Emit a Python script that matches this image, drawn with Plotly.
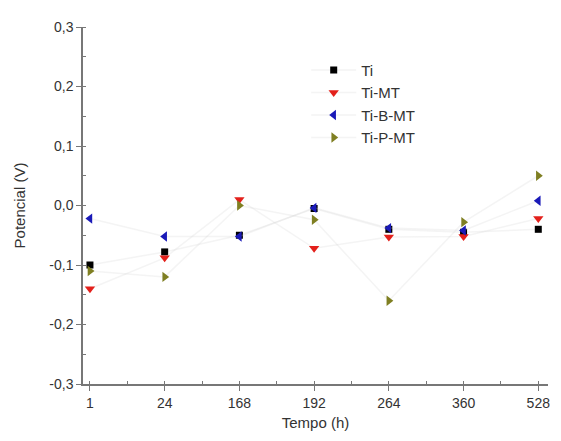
import plotly.graph_objects as go

categories = ["1", "24", "168", "192", "264", "360", "528"]
ti = [-0.10, -0.078, -0.05, -0.005, -0.04, -0.045, -0.04]
ti_mt = [-0.14, -0.088, 0.01, -0.072, -0.053, -0.052, -0.022]
ti_b_mt = [-0.022, -0.052, -0.052, -0.004, -0.038, -0.042, 0.008]
ti_p_mt = [-0.11, -0.12, 0.0, -0.024, -0.16, -0.028, 0.05]
y_ticks = [-0.3, -0.2, -0.1, 0.0, 0.1, 0.2, 0.3]
y_labels = ["-0,3", "-0,2", "-0,1", "0,0", "0,1", "0,2", "0,3"]

xs = list(range(len(categories)))

series = [
    ("Ti", ti, "square", "#000000", 7),
    ("Ti-MT", ti_mt, "triangle-down", "#e3201b", 9),
    ("Ti-B-MT", ti_b_mt, "triangle-left", "#1a1ab8", 9),
    ("Ti-P-MT", ti_p_mt, "triangle-right", "#7f7f22", 9),
]

fig = go.Figure()
for name, vals, sym, col, sz in series:
    fig.add_trace(go.Scatter(
        x=xs, y=vals, name=name, mode="lines+markers",
        line=dict(color="rgba(210,210,210,0.25)", width=1.5),
        marker=dict(symbol=sym, color=col, size=sz, line=dict(width=0)),
    ))

fam = "Liberation Sans, Arial, sans-serif"
fig.update_layout(
    width=553, height=433,
    margin=dict(l=74, r=11, t=17, b=57),
    paper_bgcolor="white", plot_bgcolor="white",
    font=dict(family=fam, size=14, color="#333333"),
    showlegend=True,
    legend=dict(x=0.48, y=0.925, xanchor="left", yanchor="top",
                bgcolor="rgba(0,0,0,0)", font=dict(size=15, color="#333333"),
                tracegroupgap=0, itemwidth=45),
    xaxis=dict(
        range=[-0.093, 6.13], tickvals=xs, ticktext=categories,
        showgrid=False, zeroline=False, showline=True, linecolor="#777777", linewidth=1.5,
        ticks="outside", ticklen=5, tickcolor="#777777",
        tickfont=dict(size=14, color="#333333"),
        minor=dict(dtick=0.5, tick0=0, ticks="inside", ticklen=3, tickcolor="#777777"),
        title=dict(text="Tempo (h)", standoff=8, font=dict(size=15, color="#333333")),
    ),
    yaxis=dict(
        range=[-0.3, 0.3], tickvals=y_ticks, ticktext=y_labels,
        showgrid=False, zeroline=False, showline=True, linecolor="#777777", linewidth=1.5,
        ticks="outside", ticklen=5, tickcolor="#777777",
        tickfont=dict(size=14, color="#333333"),
        minor=dict(dtick=0.05, tick0=0, ticks="inside", ticklen=3, tickcolor="#777777"),
        title=dict(text="Potencial (V)", standoff=20, font=dict(size=15, color="#333333")),
    ),
)

fig.write_html("out.html")
